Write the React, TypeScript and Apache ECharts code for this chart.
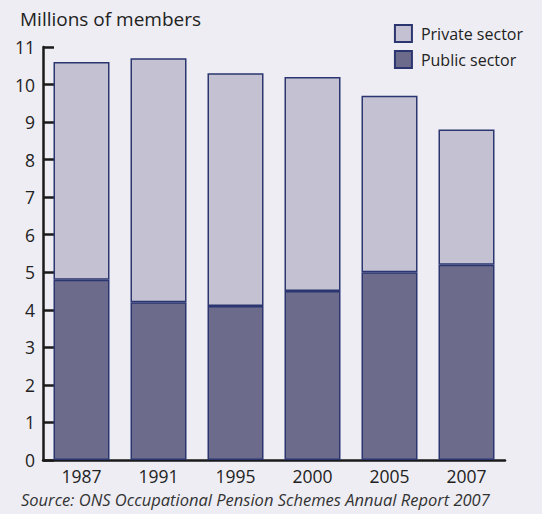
import React, { useEffect, useRef } from "react";
import * as echarts from "echarts";

const years = ["1987", "1991", "1995", "2000", "2005", "2007"];
const publicSector = [4.8, 4.2, 4.1, 4.5, 5.0, 5.2];
const privateSector = [5.8, 6.5, 6.2, 5.7, 4.7, 3.6];
const yTicks = { min: 0, max: 11, interval: 1 };

export default function App() {
  const ref = useRef<HTMLDivElement>(null);
  useEffect(() => {
    document.body.style.margin = "0";
    const chart = echarts.init(ref.current!, null, { renderer: "svg" });
    const font = "'Open Sans', sans-serif";
    chart.setOption({
      animation: false,
      backgroundColor: "#eeedf3",
      textStyle: { fontFamily: font },
      title: {
        text: "Millions of members",
        left: 15,
        top: 4,
        textStyle: { fontFamily: font, fontSize: 19, fontWeight: "normal", color: "#222" },
      },
      legend: {
        orient: "vertical",
        right: 14,
        top: 19,
        icon: "rect",
        itemWidth: 17,
        itemHeight: 17,
        itemGap: 7,
        data: ["Private sector", "Public sector"],
        textStyle: { fontFamily: font, fontSize: 16, color: "#222", padding: [0, 0, 0, 4] },
      },
      graphic: [
        {
          type: "text",
          left: 21,
          top: 491,
          style: {
            text: "Source: ONS Occupational Pension Schemes Annual Report 2007",
            font: "italic 16.5px 'Open Sans', sans-serif",
            fill: "#333",
          },
        },
      ],
      grid: { left: 43, right: 37, top: 47, bottom: 54 },
      xAxis: {
        type: "category",
        data: years,
        axisLine: { lineStyle: { color: "#1a1a1a", width: 2.5 } },
        axisTick: { inside: true, length: 9, interval: 0, lineStyle: { color: "#1a1a1a", width: 2.5 } },
        axisLabel: { fontFamily: font, fontSize: 17.5, color: "#222", margin: 7 },
      },
      yAxis: {
        type: "value",
        min: yTicks.min,
        max: yTicks.max,
        interval: yTicks.interval,
        splitLine: { show: false },
        axisLine: { show: true, lineStyle: { color: "#1a1a1a", width: 2.5 } },
        axisTick: { show: true, inside: true, length: 11, lineStyle: { color: "#1a1a1a", width: 2.5 } },
        axisLabel: { fontFamily: font, fontSize: 17.5, color: "#222", margin: 8 },
      },
      series: [
        {
          name: "Public sector",
          type: "bar",
          stack: "total",
          data: publicSector,
          barWidth: 56,
          itemStyle: { color: "#6c6b8c", borderColor: "#2b3670", borderWidth: 1.5 },
        },
        {
          name: "Private sector",
          type: "bar",
          stack: "total",
          data: privateSector,
          barWidth: 56,
          itemStyle: { color: "#c3c1d2", borderColor: "#2b3670", borderWidth: 1.5 },
        },
      ],
    });
    return () => chart.dispose();
  }, []);
  return <div ref={ref} style={{ width: 542, height: 514 }} />;
}
